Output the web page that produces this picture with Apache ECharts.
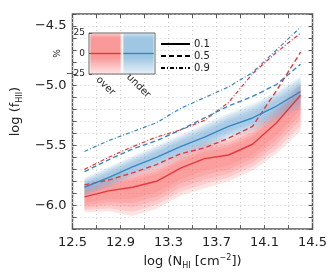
<!DOCTYPE html>
<html><head><meta charset="utf-8">
<script src="https://cdn.jsdelivr.net/npm/echarts@6/dist/echarts.min.js"></script>
<style>html,body{margin:0;padding:0;background:#fff}#c{width:330px;height:275px}</style>
</head><body><div id="c"></div>
<script>
// ---- data ----
const xs = [12.6, 12.8, 13.0, 13.2, 13.4, 13.6, 13.8, 14.0, 14.2, 14.4];
const overQ10  = [-5.93, -5.88, -5.85, -5.80, -5.69, -5.61, -5.58, -5.49, -5.31, -5.08];
const underQ10 = [-5.85, -5.77, -5.68, -5.60, -5.51, -5.43, -5.34, -5.27, -5.17, -5.05];
const overQ50  = [-5.83, -5.79, -5.73, -5.66, -5.57, -5.52, -5.44, -5.34, -5.04, -4.72];
const underQ50 = [-5.72, -5.62, -5.53, -5.46, -5.37, -5.27, -5.17, -5.09, -4.99, -4.82];
const overQ90  = [-5.70, -5.60, -5.51, -5.43, -5.37, -5.29, -5.14, -4.90, -4.72, -4.56];
const underQ90 = [-5.55, -5.46, -5.385, -5.31, -5.19, -5.10, -5.01, -4.89, -4.70, -4.51];
const overBandHigh  = [-5.82, -5.76, -5.71, -5.65, -5.55, -5.47, -5.43, -5.34, -5.18, -4.98];
const overBandLow   = [-6.06, -6.05, -6.09, -6.03, -5.92, -5.86, -5.80, -5.71, -5.57, -5.38];
const underBandHigh = [-5.77, -5.68, -5.59, -5.50, -5.41, -5.32, -5.23, -5.15, -5.05, -4.92];
const underBandLow  = [-5.92, -5.85, -5.76, -5.69, -5.60, -5.53, -5.44, -5.38, -5.29, -5.19];
const xTickLabels = [12.5, 12.9, 13.3, 13.7, 14.1, 14.5];
const xTickMarks = [12.5, 12.7, 12.9, 13.1, 13.3, 13.5, 13.7, 13.9, 14.1, 14.3, 14.5];
const yTickLabels = [-6.0, -5.5, -5.0, -4.5];
const insetCategories = ['over', 'under'];
const insetRange = [-25, 25];
const insetZero = [0, 0];
const legendNames = ['0.1', '0.5', '0.9'];

const RED = '#e8383b', BLUE = '#3a86c2';
const FONT = 'DejaVu Sans';
const fmtMinus = v => String(v).replace('-', '\u2212');

function bandLayers(center, lo, hi, rgb, alpha, z) {
  const fracs = [1, 0.85, 0.7, 0.55, 0.4];
  return fracs.map(f => {
    const L = center.map((c, i) => c - f * (c - lo[i]));
    const H = center.map((c, i) => c + f * (hi[i] - c));
    return {
      type: 'custom', xAxisIndex: 0, yAxisIndex: 0, silent: true, z: z,
      data: [[xs[0], L[0]]],
      renderItem: (p, api) => {
        const pts = [];
        for (let i = 0; i < xs.length; i++) pts.push(api.coord([xs[i], H[i]]));
        for (let i = xs.length - 1; i >= 0; i--) pts.push(api.coord([xs[i], L[i]]));
        return {type: 'polygon', shape: {points: pts}, style: {fill: 'rgba(' + rgb + ',' + alpha + ')'}};
      }
    };
  });
}

function lineSeries(name, data, color, type, width) {
  return {
    name: name, type: 'line', xAxisIndex: 0, yAxisIndex: 0, z: 5,
    data: xs.map((x, i) => [x, data[i]]), symbol: 'none', silent: true,
    lineStyle: {color: color, width: width || 1.4, type: type}
  };
}

const DASH = [5, 3], DASHDOT = [4, 2, 1, 2];

function insetGrad(rgb) {
  return new echarts.graphic.LinearGradient(0, 0, 0, 1, [
    {offset: 0, color: 'rgba(' + rgb + ',0.3)'},
    {offset: 0.12, color: 'rgba(' + rgb + ',0.62)'},
    {offset: 0.6, color: 'rgba(' + rgb + ',0.62)'},
    {offset: 1, color: 'rgba(' + rgb + ',0.15)'}
  ]);
}
const insetColors = ['245,90,90', '100,165,210'];
const insetLineColors = [RED, BLUE];

const chart = echarts.init(document.getElementById('c'), null, {renderer: 'canvas'});
const tickStyle = {show: true, inside: true, length: 4, lineStyle: {color: '#555', width: 1}};

const option = {
  animation: false,
  textStyle: {fontFamily: FONT},
  grid: [
    {left: 50, top: 14, width: 264, height: 219, show: true, borderColor: '#555', borderWidth: 1.5, backgroundColor: '#fff'},
    {left: 89, top: 33, width: 66, height: 41, show: true, borderColor: '#666', borderWidth: 1, backgroundColor: '#fff', z: 10}
  ],
  xAxis: [
    {type: 'value', gridIndex: 0, min: 12.5, max: 14.5,
     axisLine: {show: false},
     axisTick: Object.assign({}, tickStyle, {customValues: xTickMarks}),
     axisLabel: {customValues: xTickLabels, fontSize: 13, color: '#222', margin: 7, fontFamily: FONT,
                 formatter: v => v.toFixed(1)},
     splitLine: {show: true, lineStyle: {color: '#cfcfcf', type: [1, 3], width: 1}},
     name: 'log (N{s|HI} [cm{p|\u22122}])', nameLocation: 'middle', nameGap: 24,
     nameTextStyle: {fontSize: 13, color: '#222', fontFamily: FONT, lineHeight: 16,
       rich: {s: {fontSize: 8, verticalAlign: 'bottom', lineHeight: 16, fontFamily: FONT, color: '#222', padding: [4, 0, 0, 0]},
              p: {fontSize: 8, verticalAlign: 'top', lineHeight: 16, fontFamily: FONT, color: '#222'}}}},
    {type: 'value', gridIndex: 0, min: 12.5, max: 14.5, position: 'top',
     axisLine: {show: false}, axisLabel: {show: false}, splitLine: {show: false},
     axisTick: Object.assign({}, tickStyle, {customValues: xTickMarks})},
    {type: 'category', gridIndex: 1, data: insetCategories, z: 11,
     axisLine: {show: false}, axisTick: {show: false}, splitLine: {show: false},
     axisLabel: {rotate: -45, fontSize: 10, color: '#222', margin: 12, fontFamily: FONT,
                 align: 'center', verticalAlign: 'middle'}}
  ],
  yAxis: [
    {type: 'value', gridIndex: 0, min: -6.2, max: -4.4, interval: 0.1,
     axisLine: {show: false},
     axisTick: tickStyle,
     axisLabel: {customValues: yTickLabels, fontSize: 13, color: '#222', margin: 6, fontFamily: FONT,
                 formatter: v => fmtMinus(v.toFixed(1))},
     splitLine: {show: true, lineStyle: {color: '#cfcfcf', type: [1, 3], width: 1}},
     name: 'log (f{s|HII})', nameLocation: 'middle', nameGap: 44, nameRotate: 90,
     nameTextStyle: {fontSize: 13, color: '#222', fontFamily: FONT, lineHeight: 16, padding: [0, 0, 0, 20],
       rich: {s: {fontSize: 8, verticalAlign: 'bottom', lineHeight: 16, fontFamily: FONT, color: '#222', padding: [4, 0, 0, 0]}}}},
    {type: 'value', gridIndex: 0, min: -6.2, max: -4.4, interval: 0.1, position: 'right',
     axisLine: {show: false}, axisLabel: {show: false}, splitLine: {show: false}, axisTick: tickStyle},
    {type: 'value', gridIndex: 1, min: insetRange[0], max: insetRange[1], interval: 25, z: 11,
     axisLine: {show: false}, splitLine: {show: false},
     axisTick: {show: true, inside: true, length: 3, lineStyle: {color: '#555'}},
     axisLabel: {fontSize: 9, color: '#222', margin: 4, fontFamily: FONT, formatter: v => fmtMinus(v)},
     name: '%', nameLocation: 'middle', nameGap: 23, nameRotate: 90,
     nameTextStyle: {fontSize: 9, color: '#222', fontFamily: FONT}}
  ],
  legend: {
    orient: 'vertical', left: 160, top: 39, padding: 0, itemGap: 2, itemWidth: 29, itemHeight: 10,
    itemStyle: {opacity: 0},
    textStyle: {fontSize: 10, color: '#222', fontFamily: FONT, padding: [0, 0, 0, -1]},
    data: legendNames, z: 20
  },
  series: [].concat(
    bandLayers(overQ10, overBandLow, overBandHigh, '250,105,105', 0.19, 1),
    bandLayers(underQ10, underBandLow, underBandHigh, '110,170,212', 0.16, 2),
    [
      lineSeries('oq90', overQ90, RED, DASHDOT, 1.2),
      lineSeries('uq90', underQ90, BLUE, DASHDOT, 1.2),
      lineSeries('oq50', overQ50, RED, DASH),
      lineSeries('uq50', underQ50, BLUE, DASH),
      lineSeries('oq10', overQ10, RED, 'solid'),
      lineSeries('uq10', underQ10, BLUE, 'solid'),
      {name: legendNames[0], type: 'line', data: [], symbol: 'none', lineStyle: {color: '#000', width: 1.5, type: 'solid'}, itemStyle: {color: '#000'}},
      {name: legendNames[1], type: 'line', data: [], symbol: 'none', lineStyle: {color: '#000', width: 1.5, type: DASH}, itemStyle: {color: '#000'}},
      {name: legendNames[2], type: 'line', data: [], symbol: 'none', lineStyle: {color: '#000', width: 1.5, type: DASHDOT}, itemStyle: {color: '#000'}},
      {type: 'custom', xAxisIndex: 2, yAxisIndex: 2, z: 12, silent: true,
       data: insetCategories.map((c, i) => [i, insetRange[1]]),
       renderItem: (p, api) => {
         const i = api.value(0);
         const top = api.coord([i, insetRange[1]]);
         const bot = api.coord([i, insetRange[0]]);
         const z0 = api.coord([i, insetZero[i]]);
         const w = api.size([1, 0])[0] * 0.92;
         return {type: 'group', children: [
           {type: 'rect', shape: {x: top[0] - w / 2, y: top[1], width: w, height: bot[1] - top[1]},
            style: {fill: insetGrad(insetColors[i])}},
           {type: 'line', shape: {x1: z0[0] - w / 2, y1: z0[1], x2: z0[0] + w / 2, y2: z0[1]},
            style: {stroke: insetLineColors[i], lineWidth: 1.4}}
         ]};
       }}
    ]
  )
};
chart.setOption(option);
</script></body></html>
